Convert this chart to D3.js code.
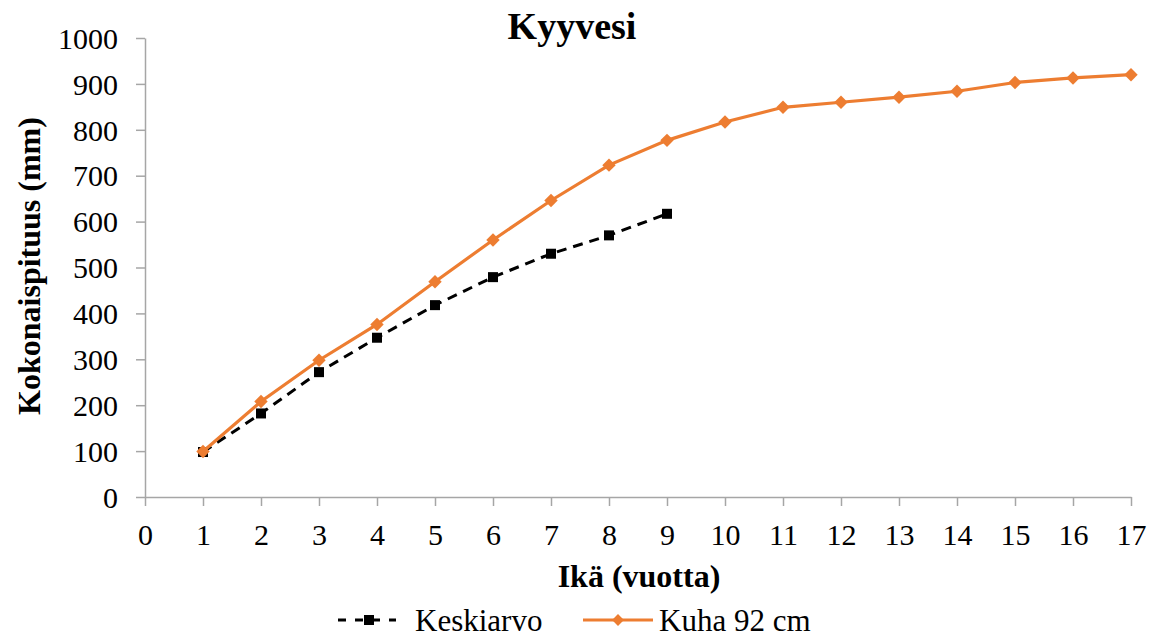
<!DOCTYPE html>
<html><head><meta charset="utf-8">
<script src="https://cdn.jsdelivr.net/npm/d3@7"></script>
<style>body{margin:0;background:#fff}svg{display:block}</style>
</head><body>
<script>
const ages = [0,1,2,3,4,5,6,7,8,9,10,11,12,13,14,15,16,17];
const yTicks = [0,100,200,300,400,500,600,700,800,900,1000];
const keskiAges = [1,2,3,4,5,6,7,8,9];
const keskiarvo = [98,182,272,347,418,479,530,570,617];
const kuhaAges = [1,2,3,4,5,6,7,8,9,10,11,12,13,14,15,16,17];
const kuha = [99,208,298,376,469,560,646,723,777,817,849,860,871,884,903,913,920];

const W=1152,H=635;
const svg=d3.select("body").append("svg").attr("width",W).attr("height",H);
const font="'Liberation Serif','Times New Roman',serif";
const x=d3.scaleLinear().domain([0,17]).range([145,1131]);
const y=d3.scaleLinear().domain([0,1000]).range([497,38]);
const axisColor="#a6a6a6";

const xa=svg.append("g").attr("transform","translate(0,497)")
  .call(d3.axisBottom(x).tickValues(ages).tickSize(9).tickSizeOuter(0).tickFormat(d3.format("d")));
const ya=svg.append("g").attr("transform","translate(145,0)")
  .call(d3.axisLeft(y).tickValues(yTicks).tickSize(9).tickSizeOuter(0).tickFormat(d3.format("d")));
[xa,ya].forEach(a=>{
  a.attr("font-family",font);
  a.selectAll("path,line").attr("stroke",axisColor).attr("stroke-width",1.5);
  a.selectAll("text").attr("font-family",font).attr("font-size",30).attr("fill","#000");
});
xa.selectAll("text").attr("dy",0).attr("y",48);
ya.selectAll("text").attr("x",-27).attr("dy","0.34em");

// lines
const lineK=d3.line().x((d,i)=>x(keskiAges[i])).y(d=>y(d));
const lineQ=d3.line().x((d,i)=>x(kuhaAges[i])).y(d=>y(d));
const orange="#ED7D31";
svg.append("path").datum(keskiarvo).attr("d",lineK).attr("fill","none")
  .attr("stroke","#000").attr("stroke-width",3).attr("stroke-dasharray","10,7");
svg.append("g").selectAll("rect").data(keskiarvo).join("rect")
  .attr("x",(d,i)=>x(keskiAges[i])-5).attr("y",d=>y(d)-5).attr("width",10).attr("height",10).attr("fill","#000");
svg.append("path").datum(kuha).attr("d",lineQ).attr("fill","none")
  .attr("stroke",orange).attr("stroke-width",3.2);
svg.append("g").selectAll("path").data(kuha).join("path")
  .attr("transform",(d,i)=>`translate(${x(kuhaAges[i])},${y(d)}) rotate(45)`)
  .attr("d",d3.symbol().type(d3.symbolSquare).size(90)).attr("fill",orange);

// titles
svg.append("text").attr("x",572).attr("y",39).attr("text-anchor","middle")
  .attr("font-family",font).attr("font-weight","bold").attr("font-size",38).text("Kyyvesi");
svg.append("text").attr("x",639).attr("y",587).attr("text-anchor","middle")
  .attr("font-family",font).attr("font-weight","bold").attr("font-size",32).text("Ikä (vuotta)");
svg.append("text").attr("transform","translate(40,266) rotate(-90)").attr("text-anchor","middle")
  .attr("font-family",font).attr("font-weight","bold").attr("font-size",32).text("Kokonaispituus (mm)");

// legend
const ly=620;
const lg=svg.append("g");
lg.append("line").attr("x1",338).attr("x2",396).attr("y1",ly).attr("y2",ly)
  .attr("stroke","#000").attr("stroke-width",3).attr("stroke-dasharray","8,9");
lg.append("rect").attr("x",364).attr("y",ly-5).attr("width",10).attr("height",10).attr("fill","#000");
lg.append("text").attr("x",415).attr("y",631).attr("font-family",font).attr("font-size",31).text("Keskiarvo");
lg.append("line").attr("x1",583).attr("x2",653).attr("y1",ly).attr("y2",ly)
  .attr("stroke",orange).attr("stroke-width",3.2);
lg.append("path").attr("transform",`translate(618,${ly}) rotate(45)`)
  .attr("d",d3.symbol().type(d3.symbolSquare).size(70)).attr("fill",orange);
lg.append("text").attr("x",659).attr("y",631).attr("font-family",font).attr("font-size",31).text("Kuha 92 cm");
</script>
</body></html>
